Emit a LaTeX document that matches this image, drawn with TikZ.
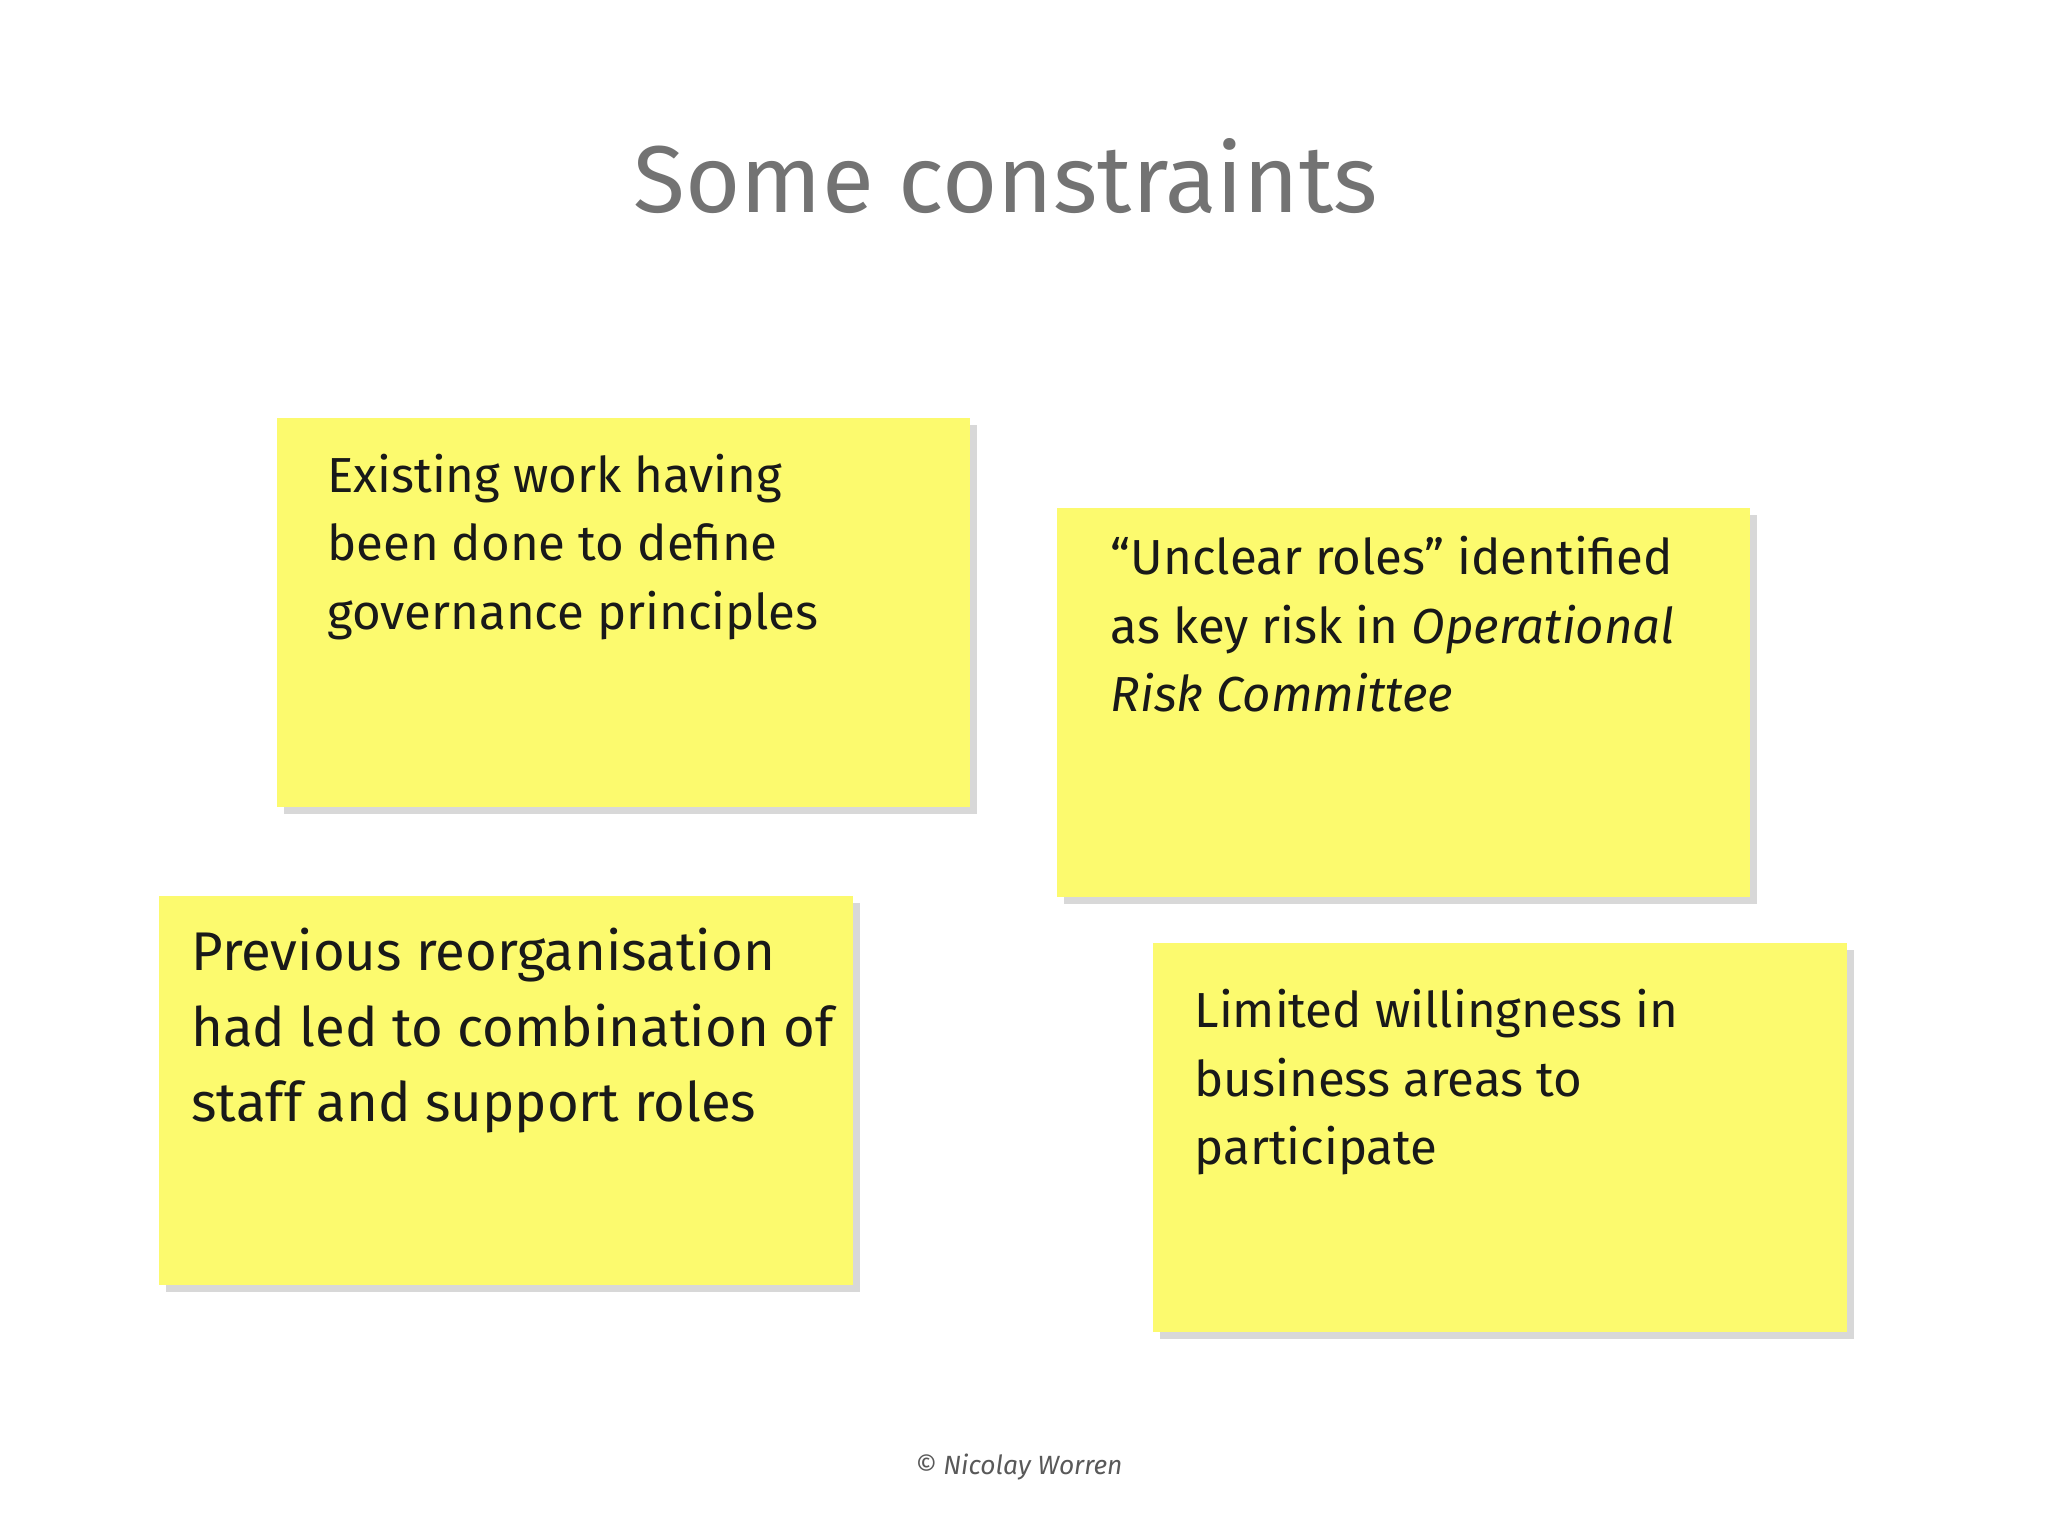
\documentclass[tikz,border=0pt]{standalone}
\usepackage{fontspec}
\setmainfont{Fira Sans}
\usetikzlibrary{shadows}
\begin{document}
\begin{tikzpicture}[x=0.01306cm,y=-0.01306cm,
  note/.style={fill={rgb,255:red,252;green,250;blue,110}, drop shadow={shadow xshift=2pt,shadow yshift=-2pt,opacity=0.3}},
  notetext/.style={anchor=north west, align=left, inner sep=0pt, text=black!90, font=\fontsize{14}{19.5}\selectfont},
  bigtext/.style={notetext, font=\fontsize{15.5}{21.5}\selectfont}]
\useasboundingbox (0,0) rectangle (1568,1176);
\fill[white] (0,0) rectangle (1568,1176);
\node[text=black!55, font=\fontsize{27}{32}\selectfont] (title) at (770,135) {Some constraints};
\path[note] (212,320) rectangle (743,618);
\path[note] (809,389) rectangle (1340,687);
\path[note] (122,686) rectangle (653,984);
\path[note] (883,722) rectangle (1414,1020);
\node[notetext] (t1) at (250,347) {Existing work having\\been done to define\\governance principles};
\node[notetext] (t2) at (850,410) {“Unclear roles” identified\\as key risk in \textit{Operational}\\\textit{Risk Committee}};
\node[bigtext] (t3) at (146,710) {Previous reorganisation\\had led to combination of\\staff and support roles};
\node[notetext] (t4) at (914,757) {Limited willingness in\\business areas to\\participate};
\node[text=black!65, font=\fontsize{7.5}{9}\selectfont\itshape] (foot) at (780,1123) {© Nicolay Worren};
\end{tikzpicture}
\end{document}
